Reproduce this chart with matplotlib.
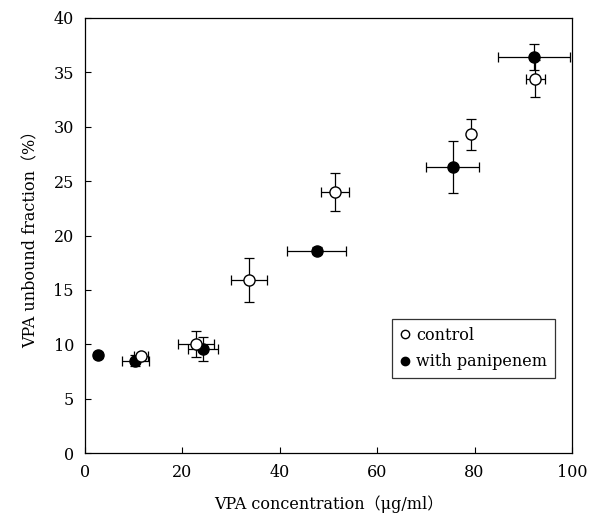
import numpy as np
import matplotlib.pyplot as plt
from matplotlib.lines import Line2D

# control (open circles)
ctrl_x = [11.5, 22.8, 33.7, 51.3, 79.2, 92.5]
ctrl_xerr = [1.4, 3.7, 3.7, 2.9, 0.6, 2.0]
ctrl_y = [8.9, 10.0, 15.9, 24.0, 29.3, 34.4]
ctrl_yerr = [0.3, 1.2, 2.0, 1.75, 1.45, 1.7]

# with panipenem (filled circles)
pani_x = [2.7, 10.3, 24.2, 47.6, 75.5, 92.2]
pani_xerr = [0.4, 2.8, 3.1, 6.1, 5.5, 7.4]
pani_y = [9.0, 8.5, 9.55, 18.6, 26.3, 36.4]
pani_yerr = [0.3, 0.5, 1.1, 0.3, 2.4, 1.2]

xticks = [0, 20, 40, 60, 80, 100]
yticks = [0, 5, 10, 15, 20, 25, 30, 35, 40]

plt.rcParams['font.family'] = ['DejaVu Serif', 'Noto Sans CJK JP']

fig = plt.figure(figsize=(5.89, 5.2), dpi=100)
ax = fig.add_axes([0.1443, 0.1288, 0.8267, 0.8366])

ax.errorbar(pani_x, pani_y, xerr=pani_xerr, yerr=pani_yerr, fmt='o',
            color='black', mfc='black', mec='black', ms=8, capsize=3.6,
            elinewidth=0.9, capthick=0.9, zorder=3)
ax.errorbar(ctrl_x, ctrl_y, xerr=ctrl_xerr, yerr=ctrl_yerr, fmt='o',
            color='black', mfc='white', mec='black', ms=8, capsize=3.6,
            elinewidth=0.9, capthick=0.9, zorder=4)

ax.set_xlim(0, 100)
ax.set_ylim(0, 40)
ax.set_xticks(xticks)
ax.set_yticks(yticks)
ax.tick_params(direction='in', labelsize=11.5, length=4, pad=8)
for s in ax.spines.values():
    s.set_linewidth(0.9)

ax.set_xlabel('VPA concentration（μg/ml）', fontsize=11.5, labelpad=10)
ax.set_ylabel('VPA unbound fraction（%）', fontsize=11.5, labelpad=10)

handles = [Line2D([], [], ls='none', marker='o', mfc='white', mec='black', ms=6),
           Line2D([], [], ls='none', marker='o', mfc='black', mec='black', ms=6)]
leg = ax.legend(handles, ['control', 'with panipenem'], loc='lower right',
                bbox_to_anchor=(0.965, 0.172), borderaxespad=0, fancybox=False,
                edgecolor='black', fontsize=11.5, handlelength=0.6,
                handletextpad=0.4, borderpad=0.5, labelspacing=0.6)
leg.get_frame().set_linewidth(0.9)

fig.savefig('out.png', dpi=100)
